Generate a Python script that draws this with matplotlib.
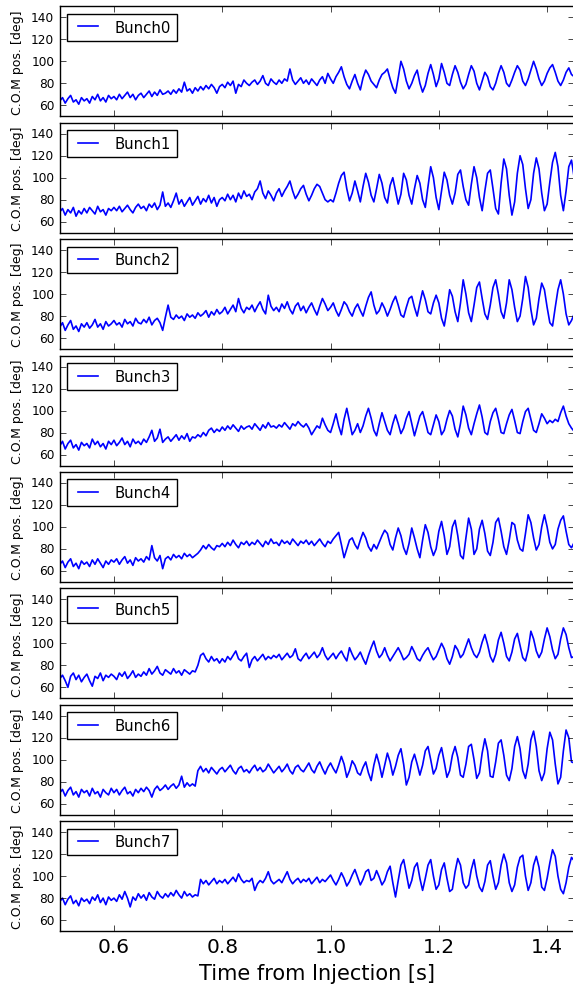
import numpy as np
import matplotlib
matplotlib.use('Agg')
import matplotlib.pyplot as plt

plt.style.use('classic')
plt.rcParams['figure.facecolor'] = 'white'
plt.rcParams['savefig.facecolor'] = 'white'

# sample times [s], one value every 5 ms
t = np.linspace(0.5, 1.45, 191)

# centre of mass position [deg]
bunch0 = [64, 67, 62, 66, 69, 63, 65, 61, 67, 64,
          66, 62, 68, 65, 70, 64, 67, 63, 69, 66,
          68, 65, 70, 66, 69, 72, 67, 70, 65, 69,
          71, 67, 70, 73, 68, 72, 69, 74, 70, 71,
          73, 70, 74, 71, 75, 72, 81, 73, 75, 71,
          76, 73, 77, 74, 78, 75, 79, 76, 71, 77,
          79, 76, 81, 78, 82, 71, 79, 77, 83, 80,
          78, 81, 83, 79, 82, 87, 80, 78, 84, 81,
          79, 83, 80, 84, 82, 93, 83, 79, 82, 85,
          80, 83, 79, 84, 81, 78, 83, 86, 80, 89,
          84, 80, 86, 90, 95, 86, 79, 75, 82, 88,
          80, 74, 85, 92, 88, 82, 79, 76, 83, 88,
          90, 93, 84, 76, 71, 85, 100, 93, 82, 75,
          80, 87, 92, 80, 72, 78, 89, 97, 88, 77,
          84, 98, 90, 80, 78, 88, 96, 90, 81, 75,
          79, 88, 96, 91, 80, 74, 82, 90, 86, 77,
          74, 80, 89, 96, 90, 80, 77, 83, 90, 96,
          92, 82, 78, 84, 92, 100, 93, 84, 78, 82,
          89, 94, 97, 90, 82, 78, 83, 90, 94, 88,
          86]
bunch1 = [69, 72, 66, 71, 68, 73, 65, 70, 67, 72,
          68, 73, 70, 67, 74, 69, 71, 66, 72, 70,
          73, 70, 74, 69, 72, 75, 71, 68, 73, 76,
          72, 74, 70, 76, 73, 77, 71, 75, 87, 74,
          77, 73, 79, 86, 76, 80, 74, 78, 82, 75,
          79, 83, 76, 81, 78, 84, 77, 82, 74, 80,
          82, 79, 85, 80, 84, 78, 86, 81, 88, 83,
          85, 80, 87, 90, 97, 86, 81, 88, 84, 79,
          86, 90, 83, 88, 92, 97, 88, 81, 85, 90,
          93, 85, 79, 84, 90, 94, 92, 86, 80, 78,
          80, 78, 86, 95, 102, 105, 90, 79, 86, 97,
          88, 78, 92, 104, 96, 84, 78, 90, 103, 95,
          82, 77, 93, 100, 88, 76, 85, 104, 98, 84,
          76, 90, 102, 95, 80, 73, 92, 110, 100, 82,
          71, 88, 105, 98, 84, 76, 86, 103, 107, 92,
          80, 75, 94, 110, 100, 82, 70, 88, 104, 107,
          90, 72, 67, 95, 117, 108, 84, 66, 78, 104,
          120, 112, 90, 72, 80, 104, 118, 108, 86, 70,
          76, 96, 114, 123, 110, 84, 70, 88, 110, 116,
          100]
bunch2 = [70, 74, 67, 72, 76, 68, 71, 66, 73, 70,
          74, 69, 72, 77, 70, 73, 68, 75, 71, 73,
          76, 72, 74, 70, 77, 73, 75, 71, 78, 74,
          73, 77, 74, 79, 72, 76, 78, 74, 67, 79,
          90, 79, 77, 81, 78, 80, 76, 82, 79, 81,
          78, 83, 80, 82, 85, 79, 84, 81, 86, 82,
          84, 88, 82, 86, 90, 84, 96, 87, 83, 88,
          86, 90, 84, 89, 93, 86, 82, 99, 89, 85,
          88, 84, 91, 87, 93, 86, 82, 89, 92, 85,
          89, 83, 88, 92, 86, 81, 89, 96, 91, 85,
          88, 92, 85, 80, 86, 93, 90, 84, 80, 87,
          91, 85, 80, 89, 97, 102, 90, 82, 85, 92,
          87, 80, 86, 93, 98, 90, 81, 79, 88, 96,
          98, 88, 80, 92, 103, 95, 84, 82, 92, 99,
          92, 78, 71, 86, 104, 98, 84, 75, 92, 113,
          100, 83, 75, 90, 106, 111, 96, 82, 77, 90,
          106, 113, 100, 84, 78, 92, 113, 104, 88, 75,
          80, 96, 116, 106, 86, 72, 78, 96, 110, 104,
          88, 74, 71, 88, 104, 113, 100, 82, 72, 76,
          82]
bunch3 = [68, 72, 65, 70, 73, 66, 69, 64, 71, 68,
          70, 66, 74, 69, 72, 67, 70, 65, 72, 69,
          73, 68, 71, 75, 69, 72, 67, 74, 70, 72,
          69, 74, 71, 76, 82, 72, 75, 83, 71, 74,
          76, 72, 75, 78, 73, 77, 74, 79, 72, 76,
          75, 78, 76, 80, 77, 82, 84, 80, 83, 81,
          85, 82, 86, 83, 87, 84, 81, 86, 83, 85,
          86, 83, 88, 85, 82, 87, 84, 89, 85, 86,
          84, 87, 85, 89, 86, 83, 88, 86, 90, 87,
          85, 88, 84, 78, 82, 86, 84, 93, 87, 82,
          80, 88, 97, 86, 78, 92, 102, 90, 78, 82,
          88, 80, 86, 95, 102, 93, 82, 77, 88, 98,
          90, 82, 78, 88, 96, 88, 79, 84, 93, 99,
          88, 77, 86, 95, 99, 90, 80, 78, 87, 96,
          90, 78, 82, 92, 100, 95, 83, 76, 88, 104,
          96, 84, 78, 88, 97, 105, 94, 80, 78, 90,
          98, 102, 92, 80, 79, 88, 96, 101, 91, 80,
          79, 90, 99, 102, 92, 82, 80, 88, 97, 93,
          88, 91, 89, 92, 90, 98, 104, 95, 88, 84,
          81]
bunch4 = [66, 69, 63, 68, 71, 64, 67, 62, 69, 66,
          68, 64, 70, 66, 71, 67, 63, 69, 66, 70,
          68, 71, 66, 70, 73, 67, 70, 65, 72, 69,
          71, 68, 73, 70, 83, 72, 69, 74, 62, 71,
          73, 70, 75, 72, 74, 71, 76, 73, 75, 72,
          74, 76, 79, 83, 80, 84, 81, 79, 83, 82,
          85, 82, 86, 83, 88, 84, 81, 86, 84, 87,
          83, 86, 84, 88, 85, 82, 87, 84, 89, 85,
          86, 83, 88, 85, 87, 84, 89, 86, 83, 87,
          85, 88, 84, 87, 83, 86, 89, 85, 82, 87,
          85, 89, 92, 95, 84, 72, 80, 88, 90, 84,
          80, 88, 95, 90, 82, 78, 84, 80, 86, 92,
          97, 94, 84, 79, 90, 99, 92, 81, 75, 85,
          99, 90, 80, 72, 88, 102, 95, 82, 74, 80,
          96, 105, 92, 75, 82, 100, 106, 92, 74, 71,
          90, 108, 98, 75, 80, 98, 106, 94, 78, 74,
          86, 104, 108, 96, 82, 75, 88, 104, 102, 88,
          80, 78, 94, 111, 104, 90, 79, 84, 100, 111,
          100, 86, 80, 84, 98, 106, 110, 96, 84, 81,
          86]
bunch5 = [68, 71, 66, 60, 70, 73, 67, 71, 65, 69,
          72, 66, 61, 70, 68, 73, 66, 71, 69, 72,
          70, 67, 73, 70, 74, 68, 71, 75, 69, 72,
          70, 74, 71, 77, 72, 75, 79, 73, 71, 76,
          74, 72, 77, 73, 75, 71, 76, 74, 72, 75,
          74, 80, 89, 91, 86, 83, 88, 84, 86, 82,
          86, 83, 88, 85, 89, 93, 86, 84, 88, 91,
          78, 85, 88, 84, 87, 90, 85, 88, 86, 89,
          87, 90, 85, 88, 91, 87, 89, 95, 86, 84,
          88, 91, 86, 89, 92, 87, 90, 96, 89, 85,
          88, 91, 86, 90, 93, 88, 84, 96, 90, 85,
          88, 92, 86, 81, 89, 96, 102, 93, 87, 90,
          96, 89, 84, 88, 92, 96, 91, 85, 87, 90,
          97, 92, 86, 84, 89, 93, 96, 90, 85, 88,
          94, 100, 95, 86, 81, 88, 98, 94, 87, 90,
          97, 104, 96, 90, 87, 92, 101, 108, 99, 88,
          83, 90, 103, 110, 100, 88, 84, 92, 104, 109,
          98, 87, 84, 94, 111, 104, 93, 87, 92, 104,
          114, 106, 94, 86, 90, 104, 114, 108, 96, 87,
          88]
bunch6 = [70, 73, 67, 72, 75, 68, 71, 66, 73, 70,
          72, 67, 74, 69, 71, 66, 73, 70, 68, 74,
          70, 73, 68, 72, 75, 69, 71, 67, 73, 70,
          74, 71, 75, 72, 66, 73, 76, 72, 74, 77,
          73, 76, 78, 74, 77, 85, 75, 79, 76, 78,
          76, 90, 94, 89, 92, 88, 93, 90, 87, 91,
          93, 89, 92, 95, 90, 87, 92, 94, 89, 91,
          88, 92, 95, 90, 93, 89, 91, 96, 92, 88,
          91, 94, 89, 92, 96, 90, 87, 93, 95, 91,
          89, 93, 97, 91, 88, 94, 98, 92, 87, 93,
          97, 92, 88, 95, 103, 96, 84, 90, 99, 95,
          88, 86, 93, 98, 88, 81, 95, 105, 96, 84,
          95, 106, 98, 86, 94, 104, 110, 96, 77, 84,
          98, 105, 96, 86, 95, 108, 112, 100, 87, 92,
          104, 111, 98, 84, 90, 104, 112, 102, 86, 84,
          96, 112, 114, 100, 83, 88, 106, 119, 108, 85,
          84, 98, 115, 118, 104, 86, 81, 92, 112, 121,
          110, 90, 83, 96, 118, 126, 112, 90, 81, 88,
          110, 125, 118, 96, 78, 84, 108, 127, 120, 98,
          97]
bunch7 = [77, 80, 74, 79, 82, 75, 78, 73, 80, 77,
          79, 75, 81, 78, 83, 76, 80, 74, 81, 78,
          80, 77, 83, 79, 86, 80, 72, 81, 78, 84,
          80, 83, 78, 85, 81, 79, 86, 82, 80, 84,
          81, 85, 82, 87, 83, 80, 86, 82, 84, 81,
          83, 82, 97, 93, 96, 92, 95, 98, 93, 96,
          94, 97, 93, 96, 99, 95, 102, 97, 94, 96,
          95, 98, 87, 93, 96, 94, 98, 104, 96, 93,
          95, 97, 94, 99, 104, 97, 93, 96, 98, 94,
          97, 95, 98, 93, 96, 99, 94, 97, 95, 98,
          101, 96, 92, 97, 103, 98, 91, 95, 101, 106,
          99, 92, 97, 104, 106, 96, 98, 105, 99, 92,
          96, 104, 109, 94, 81, 96, 110, 115, 102, 89,
          96, 108, 112, 98, 87, 98, 110, 115, 100, 88,
          92, 106, 112, 98, 86, 88, 104, 116, 110, 94,
          89, 92, 106, 115, 100, 90, 86, 95, 110, 114,
          100, 88, 94, 110, 120, 112, 94, 86, 92, 108,
          117, 119, 100, 87, 94, 110, 118, 108, 90, 87,
          98, 112, 124, 118, 100, 88, 84, 94, 108, 117,
          114]

bunches = [bunch0, bunch1, bunch2, bunch3, bunch4, bunch5, bunch6, bunch7]
names = ['Bunch0', 'Bunch1', 'Bunch2', 'Bunch3', 'Bunch4', 'Bunch5', 'Bunch6', 'Bunch7']
yticks = [60, 80, 100, 120, 140]
xticks = [0.6, 0.8, 1.0, 1.2, 1.4]

W, H = 573.0, 987.0
fig = plt.figure(figsize=(W / 100, H / 100), dpi=100)
for k in range(len(bunches)):
    top = 7.3 + 116.4 * k
    ax = fig.add_axes([59.8 / W, 1 - (top + 110) / H, 514.4 / W, 110 / H])
    ax.plot(t, bunches[k], color='b', lw=1.2, label=names[k])
    ax.set_xlim(0.5, 1.45)
    ax.set_ylim(50, 150)
    ax.set_yticks(yticks)
    ax.set_xticks(xticks)
    ax.tick_params(axis='y', labelsize=8.7)
    ax.tick_params(axis='x', labelsize=14.5)
    # only the bottom panel keeps its time labels
    if k < len(bunches) - 1:
        ax.tick_params(axis='x', labelbottom=False)
    ax.set_ylabel('C.O.M pos. [deg]', fontsize=9)
    ax.legend(loc='upper left', fontsize=10.7, numpoints=2, handlelength=2,
              borderpad=0.4, handletextpad=0.8, borderaxespad=0.5, fancybox=False)
ax.set_xlabel('Time from Injection [s]', fontsize=15)

fig.savefig('out.png', dpi=100)
